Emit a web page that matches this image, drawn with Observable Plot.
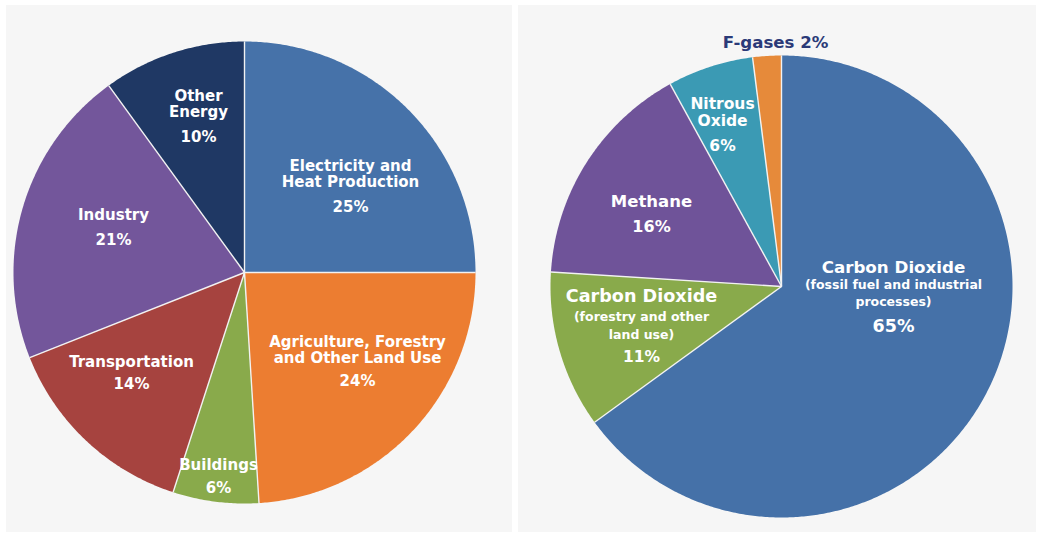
<!DOCTYPE html>
<html>
<head>
<meta charset="utf-8">
<script src="https://cdn.jsdelivr.net/npm/d3@7"></script>
<script src="https://cdn.jsdelivr.net/npm/@observablehq/plot@0.6"></script>
<style>
  html, body { margin: 0; padding: 0; background: #ffffff; }
  #wrap { position: relative; width: 1041px; height: 537px; overflow: hidden; }
  #left, #right { position: absolute; top: 5px; }
  #left { left: 6px; }
  #right { left: 518px; }
  svg { background: #f6f6f6; }
</style>
</head>
<body>
<div id="wrap"><div id="left"></div><div id="right"></div></div>
<script>
// ---- Data: global GHG emissions by economic sector (left) ----
const sectorNames = ["Electricity and Heat Production", "Agriculture, Forestry and Other Land Use", "Buildings", "Transportation", "Industry", "Other Energy"];
const sectorValues = [25, 24, 6, 14, 21, 10];
const sectorColors = ["#4672a9", "#ec7d31", "#89aa4b", "#a6433f", "#73569b", "#1f3864"];

// ---- Data: global GHG emissions by gas (right) ----
const gasNames = ["Carbon Dioxide (fossil fuel and industrial processes)", "Carbon Dioxide (forestry and other land use)", "Methane", "Nitrous Oxide", "F-gases"];
const gasValues = [65, 11, 16, 6, 2];
const gasColors = ["#4571a8", "#89aa4b", "#6f5399", "#3b9ab4", "#e68a3a"];

// ---- Label text lines ----
const sectorLabelLines = [["Electricity and", "Heat Production"], ["Agriculture, Forestry", "and Other Land Use"], ["Buildings"], ["Transportation"], ["Industry"], ["Other", "Energy"]];
const gasTitle = ["Carbon Dioxide", "Carbon Dioxide", "Methane", "Nitrous\nOxide", "F-gases"];
const gasSub = ["(fossil fuel and industrial\nprocesses)", "(forestry and other\nland use)", "", "", ""];

// ---- Layout (pixels relative to pie centre) ----
const R = 231;
const sectorLayout = [
  {dx: 106, name: -85.3, pct: -61, lh: 16.3},
  {dx: 113, name: 90.5, pct: 113, lh: 16.3},
  {dx: -26, name: 197, pct: 220, lh: 16.3},
  {dx: -113, name: 94, pct: 116, lh: 16.3},
  {dx: -131, name: -53, pct: -28, lh: 16.3},
  {dx: -46, name: -155.3, pct: -131, lh: 16.7}
];
const gasLayout = [
  {dx: 112, title: -14, tSize: 16.7, sub: 19, sLh: 17, pct: 45.7, pSize: 17.5},
  {dx: -140, title: 15.7, tSize: 17.6, sub: 52, sLh: 18, pct: 75.7, pSize: 15.5},
  {dx: -130, title: -79.3, tSize: 16.5, pct: -54.3, pSize: 16},
  {dx: -59, title: -160.5, tSize: 15.5, tLh: 16.8, pct: -136, pSize: 15.5},
  {dx: -6, title: -239, tSize: 16.6, inline: true}
];

const FONT = "DejaVu Sans";

function slices(names, values) {
  const total = d3.sum(values);
  let acc = 0;
  return names.map((n, i) => {
    const a0 = acc / total * 2 * Math.PI;
    acc += values[i];
    const a1 = acc / total * 2 * Math.PI;
    return {name: n, value: values[i], a0, a1};
  });
}
function polygonPoints(sl) {
  const pts = [];
  for (const s of sl) {
    pts.push({name: s.name, x: 0, y: 0});
    const steps = Math.max(2, Math.ceil((s.a1 - s.a0) / (Math.PI / 360)));
    for (let k = 0; k <= steps; k++) {
      const a = s.a0 + (s.a1 - s.a0) * k / steps;
      pts.push({name: s.name, x: Math.sin(a), y: Math.cos(a)});
    }
  }
  return pts;
}
function boundaries(sl) {
  return sl.map(s => ({x: Math.sin(s.a0), y: Math.cos(s.a0)}));
}
const ux = px => px / R;
const uy = py => -py / R;

// ---------- Left pie ----------
{
  const sl = slices(sectorNames, sectorValues);
  const W = 506, H = 527, cx = 238, cy = 267;
  const marks = [
    Plot.line(polygonPoints(sl), {x: "x", y: "y", z: "name", fill: "name", stroke: "none", curve: "linear-closed"}),
    Plot.link(boundaries(sl), {x1: 0, y1: 0, x2: "x", y2: "y", stroke: "#f2f2f2", strokeWidth: 1.4})
  ];
  sl.forEach((s, i) => {
    const L = sectorLayout[i];
    marks.push(Plot.text([s], {x: ux(L.dx), y: uy(L.name), text: () => sectorLabelLines[i].join("\n"), fontSize: 15, lineHeight: L.lh / 15, fill: "#ffffff", lineAnchor: "bottom", fontFamily: FONT, fontWeight: "bold"}));
    marks.push(Plot.text([s], {x: ux(L.dx), y: uy(L.pct), text: d => d.value + "%", fontSize: 15, fill: "#ffffff", lineAnchor: "bottom", fontFamily: FONT, fontWeight: "bold"}));
  });
  const chart = Plot.plot({
    width: W, height: H,
    marginLeft: cx - R, marginRight: W - cx - R, marginTop: cy - R, marginBottom: H - cy - R,
    x: {domain: [-1, 1], axis: null},
    y: {domain: [-1, 1], axis: null},
    color: {domain: sectorNames, range: sectorColors},
    marks
  });
  document.getElementById("left").appendChild(chart);
}

// ---------- Right pie ----------
{
  const sl = slices(gasNames, gasValues);
  const W = 518, H = 527, cx = 263, cy = 281;
  const marks = [
    Plot.line(polygonPoints(sl), {x: "x", y: "y", z: "name", fill: "name", stroke: "none", curve: "linear-closed"}),
    Plot.link(boundaries(sl), {x1: 0, y1: 0, x2: "x", y2: "y", stroke: "#f2f2f2", strokeWidth: 1.4})
  ];
  sl.forEach((s, i) => {
    const L = gasLayout[i];
    if (L.inline) {
      marks.push(Plot.text([s], {x: ux(L.dx), y: uy(L.title), text: d => gasTitle[i] + " " + d.value + "%", fontSize: L.tSize, fill: "#2b3a78", lineAnchor: "bottom", fontFamily: FONT, fontWeight: "bold"}));
      return;
    }
    marks.push(Plot.text([s], {x: ux(L.dx), y: uy(L.title), text: () => gasTitle[i], fontSize: L.tSize, fill: "#ffffff", lineAnchor: "bottom", lineHeight: (L.tLh || L.tSize) / L.tSize, fontFamily: FONT, fontWeight: "bold"}));
    if (gasSub[i]) {
      marks.push(Plot.text([s], {x: ux(L.dx), y: uy(L.sub), text: () => gasSub[i], fontSize: 12.5, fill: "#ffffff", lineAnchor: "bottom", lineHeight: L.sLh / 12.5, fontFamily: FONT, fontWeight: "bold"}));
    }
    marks.push(Plot.text([s], {x: ux(L.dx), y: uy(L.pct), text: d => d.value + "%", fontSize: L.pSize, fill: "#ffffff", lineAnchor: "bottom", fontFamily: FONT, fontWeight: "bold"}));
  });
  const chart = Plot.plot({
    width: W, height: H,
    marginLeft: cx - R, marginRight: W - cx - R, marginTop: cy - R, marginBottom: H - cy - R,
    x: {domain: [-1, 1], axis: null},
    y: {domain: [-1, 1], axis: null},
    color: {domain: gasNames, range: gasColors},
    marks
  });
  document.getElementById("right").appendChild(chart);
}
</script>
</body>
</html>
